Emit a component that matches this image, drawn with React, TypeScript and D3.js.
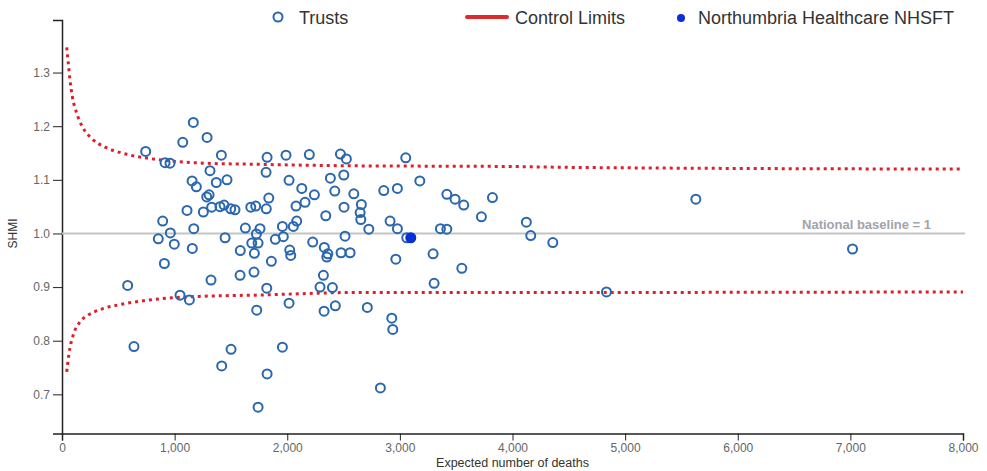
import React, { useEffect, useRef } from "react";
import * as d3 from "d3";

// [expected deaths, SHMI]
const trustPoints: [number, number][] = [
  [1166, 1.207], [1072, 1.17], [1288, 1.179], [743, 1.153], [1415, 1.146],
  [915, 1.132], [959, 1.131], [1821, 1.142], [1989, 1.146], [2196, 1.147],
  [2472, 1.148], [2525, 1.139], [1314, 1.117], [1812, 1.114], [1155, 1.098],
  [1193, 1.087], [1370, 1.095], [1465, 1.1], [2016, 1.099], [2383, 1.103],
  [2502, 1.109], [2129, 1.084], [2422, 1.079], [2241, 1.072], [2591, 1.074],
  [1306, 1.072], [1285, 1.068], [1836, 1.066], [2158, 1.058], [2078, 1.051],
  [2504, 1.049], [1110, 1.043], [1255, 1.04], [1329, 1.049], [1403, 1.05],
  [1439, 1.053], [1498, 1.046], [1536, 1.044], [1676, 1.049], [1720, 1.051],
  [1814, 1.046], [2342, 1.033], [2647, 1.039], [894, 1.023], [2084, 1.023],
  [2054, 1.013], [1957, 1.013], [1628, 1.01], [1758, 1.009], [1170, 1.009],
  [962, 1.001], [1726, 0.999], [855, 0.99], [1448, 0.992], [997, 0.98],
  [1685, 0.982], [1741, 0.982], [1894, 0.989], [1965, 0.994], [2226, 0.984],
  [2513, 0.995], [1157, 0.972], [1583, 0.968], [1708, 0.963], [2022, 0.969],
  [2031, 0.959], [2329, 0.974], [2360, 0.962], [2351, 0.956], [2478, 0.964],
  [2558, 0.964], [909, 0.944], [1859, 0.948], [1581, 0.922], [1705, 0.928],
  [1323, 0.913], [2321, 0.922], [583, 0.903], [1818, 0.898], [2291, 0.9],
  [2401, 0.899], [1048, 0.885], [1131, 0.876], [1729, 0.857], [2016, 0.87],
  [2327, 0.855], [2427, 0.865], [639, 0.789], [1501, 0.784], [1957, 0.788],
  [1418, 0.753], [1821, 0.738], [1741, 0.676], [3052, 1.141], [2857, 1.08],
  [2978, 1.084], [3177, 1.098], [2658, 1.054], [2653, 1.026], [3417, 1.073],
  [3490, 1.064], [3567, 1.053], [3822, 1.067], [3724, 1.031], [4123, 1.021],
  [4162, 0.996], [4358, 0.983], [2724, 1.008], [2913, 1.023], [2978, 1.009],
  [3061, 0.992], [3360, 1.009], [3417, 1.008], [2964, 0.952], [3295, 0.962],
  [3550, 0.935], [3304, 0.907], [2711, 0.862], [2928, 0.842], [2937, 0.821],
  [2827, 0.712], [5628, 1.064], [7019, 0.971], [4834, 0.891],
];

const northumbria: [number, number] = [3097, 0.992];

const upperLimit: [number, number][] = [
  [42, 1.347], [56, 1.317], [71, 1.286], [92, 1.255], [131, 1.224],
  [189, 1.196], [264, 1.177], [382, 1.161], [530, 1.15], [737, 1.141],
  [974, 1.135], [1270, 1.131], [1714, 1.129], [2647, 1.126], [3890, 1.125],
  [4600, 1.123], [8000, 1.12],
];

const lowerLimit: [number, number][] = [
  [42, 0.742], [62, 0.776], [100, 0.811], [160, 0.835], [234, 0.848],
  [353, 0.859], [530, 0.868], [737, 0.875], [974, 0.88], [1270, 0.883],
  [1714, 0.885], [2647, 0.89], [4600, 0.89], [8000, 0.891],
];

const xTicks = [0, 1000, 2000, 3000, 4000, 5000, 6000, 7000, 8000];
const yTicks = [0.7, 0.8, 0.9, 1.0, 1.1, 1.2, 1.3];

const W = 987;
const H = 471;
const font = "Arial, 'Liberation Sans', sans-serif";

const FunnelChart: React.FC = () => {
  const svgRef = useRef<SVGSVGElement | null>(null);

  useEffect(() => {
    if (!svgRef.current) return;
    const svg = d3.select(svgRef.current);
    svg.selectAll("*").remove();

    const x = d3.scaleLinear().domain([0, 8000]).range([62, 963]);
    const y = d3.scaleLinear().domain([0.627, 1.398]).range([433.5, 20]);

    // axes
    const xAxis = svg
      .append("g")
      .attr("transform", `translate(0,${y.range()[0]})`)
      .call(
        d3
          .axisBottom(x)
          .tickValues(xTicks)
          .tickSize(7)
          .tickFormat((d) => d3.format(",")(d as number))
      );
    xAxis.select(".domain").attr("stroke", "#222").attr("stroke-width", 1.5);
    xAxis.selectAll(".tick line").attr("stroke", "#222");
    xAxis
      .selectAll(".tick text")
      .attr("font-family", font)
      .attr("font-size", 12)
      .attr("fill", "#666");

    const yAxis = svg
      .append("g")
      .attr("transform", `translate(${x.range()[0]},0)`)
      .call(
        d3
          .axisLeft(y)
          .tickValues(yTicks)
          .tickSize(9)
          .tickFormat((d) => d3.format(".1f")(d as number))
      );
    yAxis.select(".domain").attr("stroke", "#222").attr("stroke-width", 1.5);
    yAxis.selectAll(".tick line").attr("stroke", "#222");
    yAxis
      .selectAll(".tick text")
      .attr("font-family", font)
      .attr("font-size", 12)
      .attr("fill", "#666");

    svg
      .append("text")
      .attr("x", (x(0) + x(8000)) / 2)
      .attr("y", 467)
      .attr("text-anchor", "middle")
      .attr("font-family", font)
      .attr("font-size", 12.5)
      .attr("fill", "#333")
      .text("Expected number of deaths");

    svg
      .append("text")
      .attr("transform", `translate(17,${y(1)}) rotate(-90)`)
      .attr("text-anchor", "middle")
      .attr("font-family", font)
      .attr("font-size", 12)
      .attr("fill", "#333")
      .text("SHMI");

    // national baseline
    svg
      .append("line")
      .attr("x1", x(0))
      .attr("x2", x(8000) + 2)
      .attr("y1", y(1))
      .attr("y2", y(1))
      .attr("stroke", "#c4c4c4")
      .attr("stroke-width", 2);

    svg
      .append("text")
      .attr("x", x(8000) - 32)
      .attr("y", y(1) - 4)
      .attr("text-anchor", "end")
      .attr("font-family", font)
      .attr("font-size", 13)
      .attr("font-weight", "bold")
      .attr("fill", "#a0a4ac")
      .text("National baseline = 1");

    // control limits
    const line = d3
      .line<[number, number]>()
      .x((d) => x(d[0]))
      .y((d) => y(d[1]))
      .curve(d3.curveMonotoneX);

    [upperLimit, lowerLimit].forEach((lim) => {
      svg
        .append("path")
        .attr("d", line(lim))
        .attr("fill", "none")
        .attr("stroke", "#dd1f2b")
        .attr("stroke-width", 3)
        .attr("stroke-dasharray", "3,4");
    });

    // trusts
    svg
      .append("g")
      .selectAll("circle")
      .data(trustPoints)
      .join("circle")
      .attr("cx", (d) => x(d[0]))
      .attr("cy", (d) => y(d[1]))
      .attr("r", 4.5)
      .attr("fill", "none")
      .attr("stroke", "#2b67ad")
      .attr("stroke-width", 2);

    svg
      .append("circle")
      .attr("cx", x(northumbria[0]))
      .attr("cy", y(northumbria[1]))
      .attr("r", 5.5)
      .attr("fill", "#0a2fd6");

    // legend
    const legend = svg.append("g").attr("font-family", font).attr("font-size", 18).attr("fill", "#333");
    legend
      .append("circle")
      .attr("cx", 278)
      .attr("cy", 17)
      .attr("r", 4.5)
      .attr("fill", "none")
      .attr("stroke", "#2b67ad")
      .attr("stroke-width", 2);
    legend.append("text").attr("x", 299).attr("y", 24).text("Trusts");

    legend
      .append("line")
      .attr("x1", 467)
      .attr("x2", 507)
      .attr("y1", 17)
      .attr("y2", 17)
      .attr("stroke", "#dd2a2a")
      .attr("stroke-width", 4)
      .attr("stroke-linecap", "round");
    legend.append("text").attr("x", 515).attr("y", 24).text("Control Limits");

    legend
      .append("circle")
      .attr("cx", 681)
      .attr("cy", 18)
      .attr("r", 4)
      .attr("fill", "#0a2fd6");
    legend.append("text").attr("x", 698).attr("y", 24).text("Northumbria Healthcare NHSFT");
  }, []);

  return (
    <svg
      ref={svgRef}
      width={W}
      height={H}
      style={{ position: "absolute", left: 0, top: 0, background: "#fff" }}
    ></svg>
  );
};

export default function App() {
  return <FunnelChart />;
}
